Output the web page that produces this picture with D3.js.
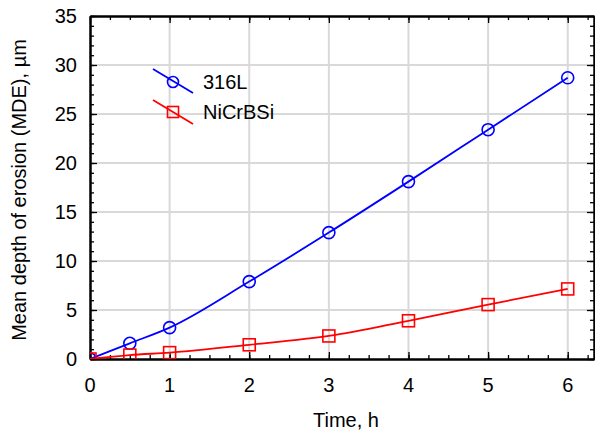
<!DOCTYPE html>
<html><head><meta charset="utf-8">
<script src="https://cdn.jsdelivr.net/npm/d3@7"></script>
<style>body{margin:0;background:#fff;} svg{display:block;font-family:"Liberation Sans",Arial,sans-serif;}</style>
</head><body>
<svg id="c" width="595" height="434"></svg>
<script>
const times = [0, 0.5, 1, 2, 3, 4, 5, 6];
const s316L = [0, 1.6, 3.2, 7.9, 12.9, 18.1, 23.4, 28.7];
const sNiCrBSi = [0, 0.4, 0.65, 1.45, 2.35, 3.9, 5.55, 7.15];
const seriesNames = ["316L", "NiCrBSi"];
const xTicks = [0, 1, 2, 3, 4, 5, 6];
const yTicks = [0, 5, 10, 15, 20, 25, 30, 35];

const svg = d3.select("#c");
const L = 90, R = 594, T = 16, B = 359;
const x = d3.scaleLinear().domain([0, 6.33]).range([L, R]);
const y = d3.scaleLinear().domain([0, 35]).range([B, T]);

// grid
svg.append("g").selectAll("line").data(xTicks.filter(d => d > 0)).join("line")
  .attr("x1", d => x(d)).attr("x2", d => x(d)).attr("y1", T).attr("y2", B)
  .attr("stroke", "#d9d9d9").attr("stroke-width", 2);
svg.append("g").selectAll("line").data(yTicks.filter(d => d > 0 && d < 35)).join("line")
  .attr("x1", L).attr("x2", R).attr("y1", d => y(d)).attr("y2", d => y(d))
  .attr("stroke", "#d9d9d9").attr("stroke-width", 2);

// axes with inward ticks
const xMinor = d3.range(0, 6.33, 0.25);
const yMinor = d3.range(0, 35.01, 1);
function styleAxis(g) { g.selectAll("path").attr("stroke", "#000").attr("stroke-width", 2); g.selectAll("line").attr("stroke", "#000").attr("stroke-width", 1.3); g.selectAll("text").remove(); }

svg.append("g").attr("transform", `translate(0,${B})`).call(d3.axisBottom(x).tickValues(xMinor).tickSize(-4).tickSizeOuter(0)).call(styleAxis);
svg.append("g").attr("transform", `translate(0,${B})`).call(d3.axisBottom(x).tickValues(xTicks).tickSize(-7).tickSizeOuter(0)).call(styleAxis);
svg.append("g").attr("transform", `translate(0,${T})`).call(d3.axisTop(x).tickValues(xMinor).tickSize(-4).tickSizeOuter(0)).call(styleAxis);
svg.append("g").attr("transform", `translate(0,${T})`).call(d3.axisTop(x).tickValues(xTicks).tickSize(-7).tickSizeOuter(0)).call(styleAxis);
svg.append("g").attr("transform", `translate(${L},0)`).call(d3.axisLeft(y).tickValues(yMinor).tickSize(-4).tickSizeOuter(0)).call(styleAxis);
svg.append("g").attr("transform", `translate(${L},0)`).call(d3.axisLeft(y).tickValues(yTicks).tickSize(-7).tickSizeOuter(0)).call(styleAxis);
svg.append("g").attr("transform", `translate(${R},0)`).call(d3.axisRight(y).tickValues(yMinor).tickSize(-4).tickSizeOuter(0)).call(styleAxis);
svg.append("g").attr("transform", `translate(${R},0)`).call(d3.axisRight(y).tickValues(yTicks).tickSize(-7).tickSizeOuter(0)).call(styleAxis);

// tick labels
svg.append("g").selectAll("text").data(xTicks).join("text")
  .attr("x", d => x(d)).attr("y", 392).attr("text-anchor", "middle")
  .attr("font-size", 20).text(d => d);
svg.append("g").selectAll("text").data(yTicks).join("text")
  .attr("x", 77).attr("y", d => y(d) + 7).attr("text-anchor", "end")
  .attr("font-size", 20).text(d => d);

// titles
svg.append("text").attr("x", 346).attr("y", 427).attr("text-anchor", "middle").attr("font-size", 20).text("Time, h");
svg.append("text").attr("transform", "translate(26,190) rotate(-90)").attr("text-anchor", "middle").attr("font-size", 20).text("Mean depth of erosion (MDE), µm");

// clip
svg.append("clipPath").attr("id", "clip").append("rect").attr("x", L).attr("y", T).attr("width", R - L).attr("height", B - T);

const line = d3.line().x((d, i) => x(times[i])).y(d => y(d)).curve(d3.curveMonotoneX);
const plot = svg.append("g").attr("clip-path", "url(#clip)");

const blue = "#0000ff", red = "#ff0000";
plot.append("path").datum(s316L).attr("d", line).attr("fill", "none").attr("stroke", blue).attr("stroke-width", 1.8);
plot.append("g").selectAll("circle").data(s316L).join("circle")
  .attr("cx", (d, i) => x(times[i])).attr("cy", d => y(d)).attr("r", 6)
  .attr("fill", "none").attr("stroke", blue).attr("stroke-width", 1.6);
plot.append("path").datum(sNiCrBSi).attr("d", line).attr("fill", "none").attr("stroke", red).attr("stroke-width", 1.8);
plot.append("g").selectAll("rect").data(sNiCrBSi).join("rect")
  .attr("x", (d, i) => x(times[i]) - 6).attr("y", d => y(d) - 6).attr("width", 12).attr("height", 12)
  .attr("fill", "none").attr("stroke", red).attr("stroke-width", 1.6);

// legend
const lg = svg.append("g");
lg.append("line").attr("x1", 153).attr("y1", 69).attr("x2", 193).attr("y2", 93).attr("stroke", blue).attr("stroke-width", 1.8);
lg.append("circle").attr("cx", 173).attr("cy", 82).attr("r", 5.5).attr("fill", "none").attr("stroke", blue).attr("stroke-width", 1.6);
lg.append("text").attr("x", 203).attr("y", 89).attr("font-size", 20).text(seriesNames[0]);
lg.append("line").attr("x1", 153).attr("y1", 100).attr("x2", 193).attr("y2", 124).attr("stroke", red).attr("stroke-width", 1.8);
lg.append("rect").attr("x", 167.5).attr("y", 106.5).attr("width", 11).attr("height", 11).attr("fill", "none").attr("stroke", red).attr("stroke-width", 1.6);
lg.append("text").attr("x", 203).attr("y", 119).attr("font-size", 20).text(seriesNames[1]);
</script>
</body></html>
